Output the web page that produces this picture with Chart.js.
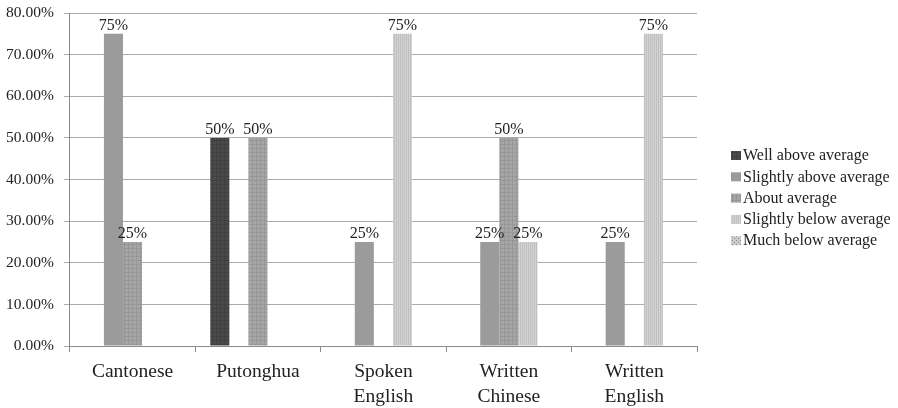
<!DOCTYPE html>
<html>
<head>
<meta charset="utf-8">
<script src="https://cdn.jsdelivr.net/npm/chart.js@4.4.0/dist/chart.umd.min.js"></script>
<style>
  html, body { margin: 0; padding: 0; background: #fff; }
  #wrap { width: 898px; height: 408px; }
</style>
</head>
<body>
<div id="wrap"><canvas id="chart"></canvas></div>
<script>
const categories = ["Cantonese", "Putonghua", ["Spoken", "English"], ["Written", "Chinese"], ["Written", "English"]];
const seriesNames = ["Well above average", "Slightly above average", "About average", "Slightly below average", "Much below average"];
const wellAbove = [null, 50, null, null, null];
const slightlyAbove = [75, null, 25, 25, 25];
const aboutAverage = [25, 50, null, 50, null];
const slightlyBelow = [null, null, 75, 25, 75];
const muchBelow = [null, null, null, null, null];
const yTicks = [0, 10, 20, 30, 40, 50, 60, 70, 80];

const FONT = '"Liberation Serif", "Times New Roman", serif';

// small tiled patterns to imitate the print-style fills
function makePattern(base, line, kind) {
  const c = document.createElement("canvas");
  c.width = 4; c.height = 4;
  const g = c.getContext("2d");
  g.fillStyle = base;
  g.fillRect(0, 0, 4, 4);
  g.fillStyle = line;
  if (kind === "grid") {
    g.fillRect(0, 0, 4, 1);
    g.fillRect(0, 0, 1, 4);
  } else if (kind === "vert") {
    g.fillRect(0, 0, 1, 4);
    g.fillRect(2, 0, 1, 4);
  } else if (kind === "dots") {
    g.fillRect(0, 0, 1, 1);
    g.fillRect(2, 2, 1, 1);
  }
  return g.createPattern(c, "repeat");
}

const ctx = document.getElementById("chart").getContext("2d");

const fills = [
  makePattern("#4a4a4a", "#404040", "grid"),
  "#9b9b9b",
  makePattern("#a6a6a6", "#979797", "grid"),
  makePattern("#d2d2d2", "#c0c0c0", "vert"),
  makePattern("#cccccc", "#888888", "dots")
];
const allData = [wellAbove, slightlyAbove, aboutAverage, slightlyBelow, muchBelow];

// draws "75%" style labels over each bar
const barLabels = {
  id: "barLabels",
  afterDatasetsDraw(chart) {
    const c = chart.ctx;
    c.save();
    c.font = "16px " + FONT;
    c.fillStyle = "#222";
    c.textAlign = "center";
    c.textBaseline = "alphabetic";
    chart.data.datasets.forEach((ds, i) => {
      chart.getDatasetMeta(i).data.forEach((bar, j) => {
        const v = ds.data[j];
        if (v == null) return;
        c.fillText(v + "%", bar.x, bar.y - 4);
      });
    });
    c.restore();
  }
};

// legend on the right, small square right next to the text
const sideLegend = {
  id: "sideLegend",
  afterDraw(chart) {
    const c = chart.ctx;
    const x = chart.chartArea.right + 34;
    const y0 = 155;
    const step = 21.3;
    c.save();
    c.font = "16px " + FONT;
    c.textBaseline = "middle";
    c.textAlign = "left";
    chart.data.datasets.forEach((ds, i) => {
      const y = y0 + i * step;
      c.fillStyle = ds.backgroundColor;
      c.fillRect(x, y - 4, 10, 9);
      c.fillStyle = "#222";
      c.fillText(ds.label, x + 12, y + 1);
    });
    c.restore();
  }
};

new Chart(ctx, {
  type: "bar",
  data: {
    labels: categories,
    datasets: seriesNames.map((name, i) => ({
      label: name,
      data: allData[i],
      backgroundColor: fills[i],
      borderWidth: 0,
      categoryPercentage: 0.76,
      barPercentage: 1.0
    }))
  },
  options: {
    responsive: true,
    maintainAspectRatio: false,
    animation: false,
    layout: { padding: { top: 0, right: 201, left: -4, bottom: -8 } },
    plugins: {
      legend: { display: false },
      tooltip: { enabled: false }
    },
    scales: {
      x: {
        grid: {
          display: true,
          drawOnChartArea: false,
          drawTicks: true,
          tickLength: 6,
          color: "#8a8a8a"
        },
        border: { color: "#8a8a8a" },
        ticks: {
          color: "#222",
          font: { family: FONT, size: 19.5, lineHeight: 1.28 },
          maxRotation: 0,
          autoSkip: false,
          padding: 7
        }
      },
      y: {
        min: 0,
        max: 80,
        afterBuildTicks(axis) {
          axis.ticks = yTicks.map(v => ({ value: v }));
        },
        afterFit(axis) {
          axis.paddingTop = 13;
        },
        grid: {
          color: "#ababab",
          tickLength: 6
        },
        border: { color: "#8a8a8a" },
        ticks: {
          color: "#222",
          font: { family: FONT, size: 15.5 },
          padding: 10,
          callback: v => v.toFixed(2) + "%"
        }
      }
    }
  },
  plugins: [barLabels, sideLegend]
});
</script>
</body>
</html>
